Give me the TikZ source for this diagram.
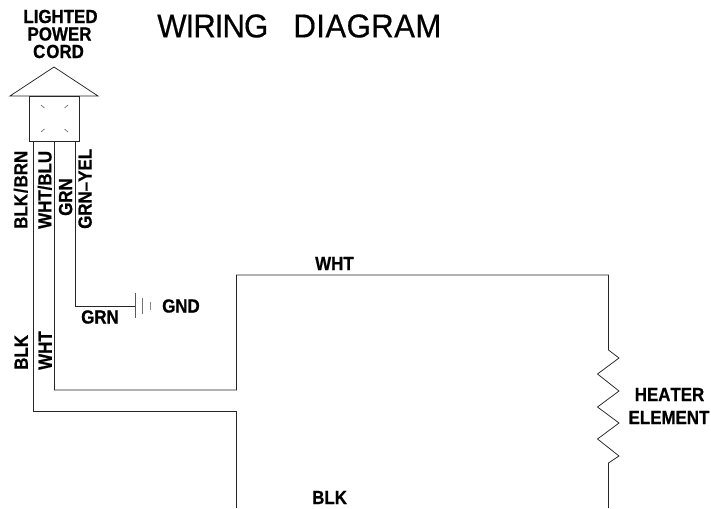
\documentclass[tikz,border=0pt]{standalone}
\usepackage{fontspec}
\setmainfont{Liberation Sans}
\newfontfamily\titlefont[FakeStretch=0.945,FakeBold=0.4,Kerning=Off]{Liberation Sans}
\newfontfamily\lblfont[FakeStretch=0.89,FakeBold=0.7,Kerning=Off]{Liberation Sans Bold}
\tikzset{
  wire/.style={draw=black!85,line width=0.75pt,line cap=butt,line join=miter},
  lbl/.style={inner sep=0pt,text=black,font=\lblfont\fontsize{19}{19}\selectfont},
  vlbl/.style={lbl,rotate=90},
  ttl/.style={inner sep=0pt,text=black,font=\titlefont\fontsize{33}{33}\selectfont},
  tick/.style={draw=black!60,line width=0.6pt},
}
\begin{document}
\begin{tikzpicture}[x=1pt,y=-1pt]
\useasboundingbox (0,0) rectangle (711,508);
\fill[white] (0,0) rectangle (711,508);
% title and cord labels
\node[ttl,anchor=west] (title) at (157,26) {W\kern-1pt I\kern-1pt R\kern-1pt I\kern-1pt N\kern-1pt G\hspace{0.5em} D\kern.4pt I\kern.4pt A\kern.4pt G\kern.4pt R\kern.4pt A\kern.4pt M};
\node[lbl] (lighted) at (60.5,16.5) {LIGHTED};
\node[lbl] (power) at (59.5,34) {POWER};
\node[lbl] (cord) at (58.5,51.5) {C\kern1pt ORD};
% plug
\coordinate (apex) at (54,67);
\coordinate (bl) at (10,96);
\coordinate (br) at (98,96);
\draw[wire] (apex) -- (br) -- (bl) -- cycle;
\node[wire,minimum width=49.5pt,minimum height=45pt,inner sep=0pt] (box) at (54.25,118.5) {};
\draw[tick] (41,105) -- (44.5,108);
\draw[tick] (68,105) -- (64.5,108);
\draw[tick] (41,132) -- (44.5,129);
\draw[tick] (68,132) -- (64.5,129);
% wire points
\coordinate (b1) at (33.5,141);
\coordinate (w1) at (54.5,141);
\coordinate (g1) at (75.5,141);
\coordinate (b2) at (33.5,411);
\coordinate (b3) at (236.5,411);
\coordinate (b4) at (236.5,508);
\coordinate (w2) at (54.5,390);
\coordinate (w3) at (236.5,390);
\coordinate (w4) at (236.5,275);
\coordinate (w5) at (608.5,275);
\coordinate (r0) at (608.5,350);
\coordinate (r9) at (608.5,463);
\coordinate (r10) at (608.5,508);
\coordinate (g2) at (75.5,306);
\coordinate (g3) at (135,306);
\draw[wire] (b1) -- (b2) -- (b3) -- (b4);
\draw[wire] (w1) -- (w2) -- (w3) -- (w4) -- (w5) -- (r0)
  -- (619,358) -- (597.5,374) -- (619,391) -- (597.5,407)
  -- (619,423) -- (597.5,439) -- (619,456) -- (r9) -- (r10);
\draw[wire] (g1) -- (g2) -- (g3);
% ground
\draw[wire,draw=black!65] (135,293) -- (135,318);
\draw[wire,draw=black!55] (142.5,298) -- (142.5,314);
\draw[wire,draw=black!45] (150.5,302) -- (150.5,310);
% labels
\node[vlbl,anchor=south west] (blkbrn) at (28,229) {BLK\kern1pt/\kern1pt BRN};
\node[vlbl,anchor=south west] (whtblu) at (52,229) {WHT/BLU};
\node[vlbl,anchor=south west] (grn) at (72.5,216) {GRN};
\node[vlbl,anchor=south west] (grnyel) at (92,229) {GRN–YEL};
\node[vlbl,anchor=south west] (blk) at (28,370) {BLK};
\node[vlbl,anchor=south west] (wht) at (52,370) {WHT};
\node[lbl,anchor=west] (grnl) at (81,317) {GRN};
\node[lbl,anchor=west] (gnd) at (162,306) {GND};
\node[lbl,anchor=west] (whtt) at (315,263.5) {WHT};
\node[lbl,anchor=west] (blkb) at (312,497.5) {BLK};
\node[lbl] (heater) at (669.5,394.5) {HEATER};
\node[lbl] (element) at (669,417.5) {ELEMENT};
\end{tikzpicture}
\end{document}
